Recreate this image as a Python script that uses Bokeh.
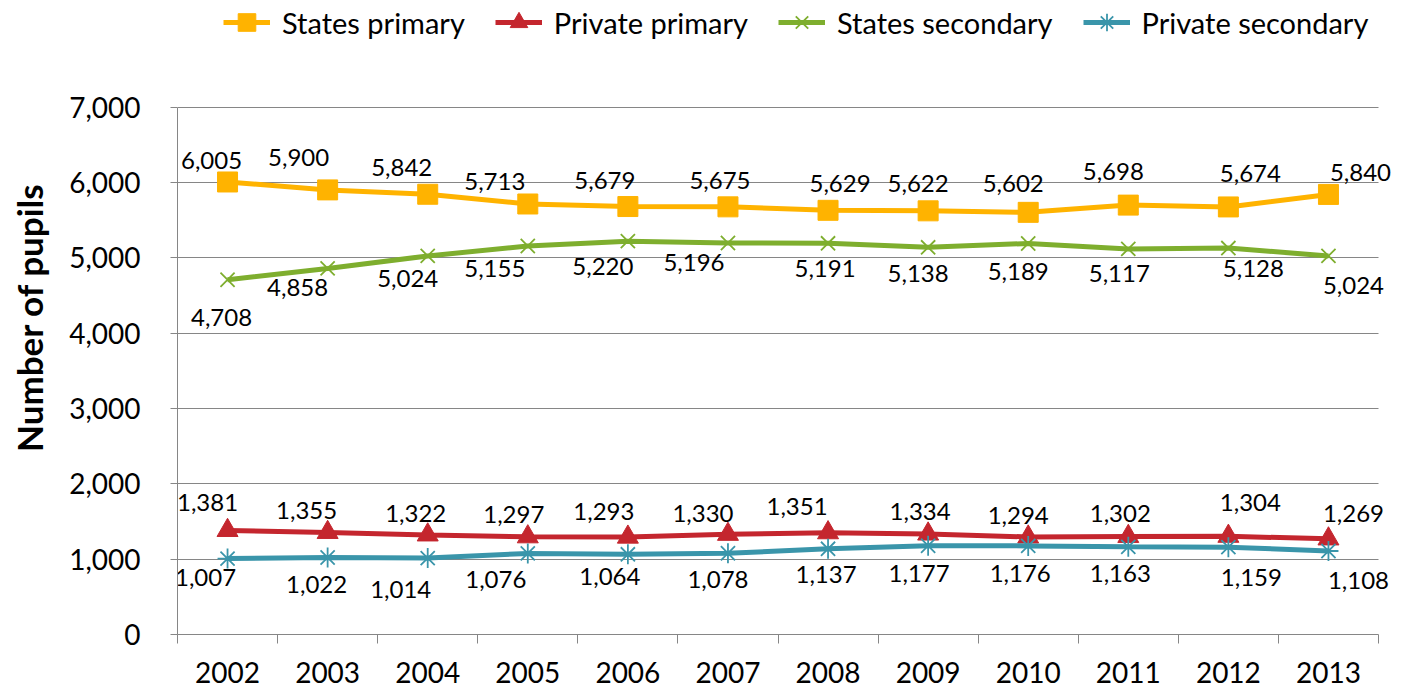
from bokeh.plotting import figure
from bokeh.models import Range1d, FixedTicker, NumeralTickFormatter, Legend, LegendItem, ColumnDataSource
from bokeh.embed import file_html
from bokeh.resources import INLINE
from bokeh.core.properties import value

years = [2002, 2003, 2004, 2005, 2006, 2007, 2008, 2009, 2010, 2011, 2012, 2013]
states_primary = [6005, 5900, 5842, 5713, 5679, 5675, 5629, 5622, 5602, 5698, 5674, 5840]
private_primary = [1381, 1355, 1322, 1297, 1293, 1330, 1351, 1334, 1294, 1302, 1304, 1269]
states_secondary = [4708, 4858, 5024, 5155, 5220, 5196, 5191, 5138, 5189, 5117, 5128, 5024]
private_secondary = [1007, 1022, 1014, 1076, 1064, 1078, 1137, 1177, 1176, 1163, 1159, 1108]
y_ticks = [0, 1000, 2000, 3000, 4000, 5000, 6000, 7000]

# data-label placement (screen-pixel nudges, as in the original chart)
sp_dx = [-16, -29, -26, -33, -23, -8, 12, -10, -15, -15, 22, 32]
sp_dy = [-21, -32, -27, -22, -26, -26, -27, -27, -29, -34, -33, -22]
pp_dx = [-20, -21, -12, -14, -24, -25, -31, -8, -10, -8, 22, 25]
pp_dy = [-28, -22, -21, -22, -26, -21, -26, -22, -21, -23, -34, -25]
ss_dx = [-6, -30, -20, -33, -25, -34, -3, -10, -10, -9, 25, 25]
ss_dy = [38, 19, 23, 22, 25, 20, 25, 26, 28, 25, 20, 30]
ps_dx = [-22, -11, -27, -32, -18, -10, -2, -9, -8, -8, 23, 30]
ps_dy = [19, 27, 31, 26, 22, 26, 26, 28, 28, 27, 30, 29]

FONT = "Lato"
GRID = "#868686"

W, H = 1405, 688
BORDER_L, BORDER_B = 177, 54
AXIS_RIGHT_PX = 1378            # where the value axis area ends
FRAME_H = H - BORDER_B          # frame spans from canvas top to the x axis
PLOT_H = 527.5                  # pixel height of the 0..7000 value band
y_top = y_ticks[-1] * FRAME_H / PLOT_H   # extra room above 7000 holds the legend
x_lo, x_hi = years[0] - 0.5, years[-1] + 0.5
cat_w = (AXIS_RIGHT_PX - BORDER_L) / len(years)
x_end = x_hi + (W - AXIS_RIGHT_PX) / cat_w   # room on the right for the last labels

p = figure(width=W, height=H, output_backend="svg", toolbar_location=None,
           x_range=Range1d(x_lo, x_end), y_range=Range1d(0, y_top),
           min_border_left=BORDER_L, min_border_right=0, min_border_top=0,
           min_border_bottom=BORDER_B)
p.outline_line_color = None
p.background_fill_color = "white"
p.border_fill_color = "white"

# axes
bounds = [y - 0.5 for y in years] + [x_hi]
p.xaxis.ticker = FixedTicker(ticks=years, minor_ticks=bounds)
p.xaxis.bounds = (x_lo, x_hi)
p.xaxis.axis_line_color = GRID
p.xaxis.minor_tick_line_color = GRID
p.xaxis.minor_tick_out = 9
p.xaxis.minor_tick_in = 0
p.xaxis.major_tick_out = 0
p.xaxis.major_tick_in = 0
p.xaxis.major_tick_line_color = None
p.xaxis.major_label_standoff = 18
p.xaxis.major_label_text_font = FONT
p.xaxis.major_label_text_font_size = "28px"
p.xaxis.major_label_text_color = "black"

p.yaxis.ticker = FixedTicker(ticks=y_ticks)
p.yaxis.bounds = (y_ticks[0], y_ticks[-1])
p.yaxis.formatter = NumeralTickFormatter(format="0,0")
p.yaxis.axis_line_color = GRID
p.yaxis.major_tick_line_color = GRID
p.yaxis.major_tick_out = 7
p.yaxis.major_tick_in = 0
p.yaxis.minor_tick_line_color = None
p.yaxis.major_label_standoff = 30
p.yaxis.major_label_text_font = FONT
p.yaxis.major_label_text_font_size = "28px"
p.yaxis.major_label_text_color = "black"
p.yaxis.axis_label = "Number of pupils"
p.yaxis.axis_label_text_font = FONT
p.yaxis.axis_label_text_font_size = "35px"
p.yaxis.axis_label_text_font_style = "bold"
p.yaxis.axis_label_text_color = "black"
p.yaxis.axis_label_standoff = 16

p.xgrid.grid_line_color = None
p.ygrid.ticker = FixedTicker(ticks=y_ticks)
p.ygrid.cross_bounds = (x_lo, x_hi)
p.ygrid.grid_line_color = GRID
p.ygrid.grid_line_width = 1

series = [
    ("States primary", states_primary, "#FFB300", "square", 20, sp_dx, sp_dy),
    ("Private primary", private_primary, "#C4262E", "triangle", 21, pp_dx, pp_dy),
    ("States secondary", states_secondary, "#7EAE2E", "x", 20, ss_dx, ss_dy),
    ("Private secondary", private_secondary, "#3A95AA", "asterisk", 20, ps_dx, ps_dy),
]

items = []
for name, vals, color, marker, size, dx, dy in series:
    src = ColumnDataSource(dict(x=years, y=vals, lab=[f"{v:,}" for v in vals], dx=dx, dy=dy))
    r1 = p.line("x", "y", source=src, line_color=color, line_width=5)
    if marker in ("x", "asterisk"):
        r2 = p.scatter("x", "y", source=src, marker=marker, size=size,
                       line_color=color, line_width=1.8, fill_color=color)
    else:
        r2 = p.scatter("x", "y", source=src, marker=marker, size=size,
                       line_color=color, fill_color=color)
    p.text("x", "y", text="lab", source=src, x_offset="dx", y_offset="dy",
           text_align="center", text_baseline="middle",
           text_font=value(FONT), text_font_size="24px", text_color="black")
    items.append(LegendItem(label=name, renderers=[r1, r2]))

legend = Legend(items=items, orientation="horizontal", location=(46, FRAME_H - 44),
                label_text_font=FONT, label_text_font_size="29px", label_text_color="black",
                glyph_width=47, glyph_height=44, label_standoff=12, spacing=30,
                border_line_color=None, background_fill_alpha=0, margin=0, padding=0)
p.add_layout(legend, "center")

open("out.html", "w").write(file_html(p, INLINE))
